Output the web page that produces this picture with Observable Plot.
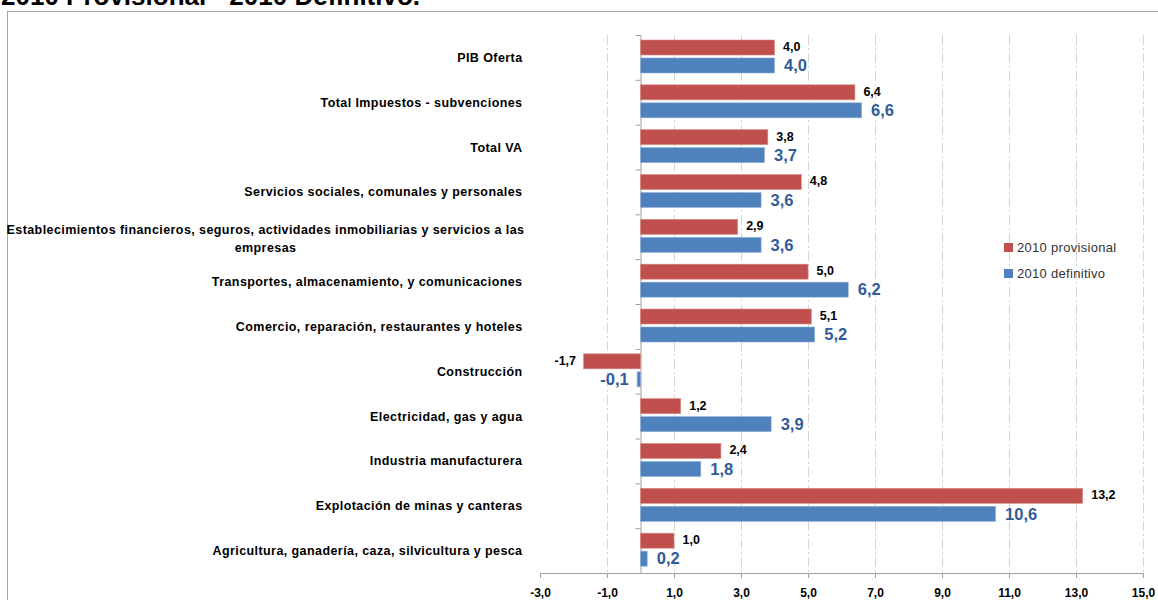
<!DOCTYPE html>
<html>
<head>
<meta charset="utf-8">
<script src="https://cdn.jsdelivr.net/npm/d3@7"></script>
<script src="https://cdn.jsdelivr.net/npm/@observablehq/plot@0.6"></script>
<style>
  html, body { margin: 0; padding: 0; background: #fff; overflow: hidden; }
  #wrap { position: relative; width: 1158px; height: 600px; overflow: hidden; }
  #title { position: absolute; left: 1px; top: -17px; font: bold 26px/26px "Liberation Sans", Arial, sans-serif; color: #000; white-space: nowrap; }
  #frame { position: absolute; left: 7px; top: 11px; width: 1200px; height: 700px; border: 1px solid #a6a6a6; box-sizing: border-box; }
  #chart { position: absolute; left: 0; top: 0; line-height: 0; }
  #chart svg { display: block; }
  #legend { position: absolute; left: 1004px; top: 234px; font: 13px "Liberation Sans", Arial, sans-serif; letter-spacing: 0.3px; color: #333; }
  #legend div { display: flex; align-items: center; height: 26px; }
  #legend span.sw { display: inline-block; width: 9px; height: 9px; margin-right: 4px; }
</style>
</head>
<body>
<div id="wrap">
  <div id="title">2010 Provisional - 2010 Definitivo.</div>
  <div id="frame"></div>
  <div id="chart"></div>
  <div id="legend"></div>
</div>
<script>
const categories = [
  "PIB Oferta",
  "Total Impuestos - subvenciones",
  "Total VA",
  "Servicios sociales, comunales y personales",
  "Establecimientos financieros, seguros, actividades inmobiliarias y servicios a las\nempresas",
  "Transportes, almacenamiento, y comunicaciones",
  "Comercio, reparación, restaurantes y hoteles",
  "Construcción",
  "Electricidad, gas y agua",
  "Industria manufacturera",
  "Explotación de minas y canteras",
  "Agricultura, ganadería, caza, silvicultura y pesca"
];
const provisional = [4.0, 6.4, 3.8, 4.8, 2.9, 5.0, 5.1, -1.7, 1.2, 2.4, 13.2, 1.0];
const definitivo  = [4.0, 6.6, 3.7, 3.6, 3.6, 6.2, 5.2, -0.1, 3.9, 1.8, 10.6, 0.2];
const seriesNames = ["2010 provisional", "2010 definitivo"];
const xTicks = [-3, -1, 1, 3, 5, 7, 9, 11, 13, 15];

const RED = "#C0504D", BLUE = "#4F81BD", BLUE_TXT = "#2F5C99";
const data = categories.map((c, i) => ({category: c, provisional: provisional[i], definitivo: definitivo[i]}));
const fmt = d => d.toFixed(1).replace(".", ",");
const FONT = "'Liberation Sans', Arial, sans-serif";

const H = 600, MT = 35, MB = 27;
const band = (H - MT - MB) / categories.length;
const last = categories[categories.length - 1];
const isLong = c => c.includes("\n");

const chart = Plot.plot({
  width: 1158, height: H,
  marginTop: MT, marginBottom: MB, marginLeft: 540, marginRight: 15,
  x: {domain: [-3, 15], axis: null},
  y: {domain: categories, axis: null, padding: 0, round: false},
  style: {background: "transparent", fontFamily: FONT},
  marks: [
    Plot.ruleX(xTicks.filter(t => t !== -3), {stroke: "#d4d4d4", strokeDasharray: "10,3,2,3"}),
    Plot.ruleX([0], {stroke: "#a0a0a0"}),
    Plot.ruleY(categories, {y: d => d, x1: 0, x2: 0, insetLeft: -5, dy: -band / 2, stroke: "#a0a0a0"}),
    Plot.ruleY([last], {y: d => d, dy: band / 2, stroke: "#a0a0a0"}),
    Plot.barX(data, {y: "category", x1: 0, x2: "provisional", fill: RED, stroke: "#d88a88", strokeWidth: 0.6, insetTop: 5, insetBottom: band - 20}),
    Plot.barX(data, {y: "category", x1: 0, x2: "definitivo", fill: BLUE, stroke: "#8fb0d8", strokeWidth: 0.6, insetTop: 23, insetBottom: band - 38}),
    Plot.text(data.filter(d => d.provisional >= 0), {y: "category", x: "provisional", text: d => fmt(d.provisional), textAnchor: "start", dx: 8, dy: -11, fontWeight: "bold", fontSize: 12.5, fill: "#000"}),
    Plot.text(data.filter(d => d.provisional < 0), {y: "category", x: "provisional", text: d => fmt(d.provisional), textAnchor: "end", dx: -8, dy: -11, fontWeight: "bold", fontSize: 12.5, fill: "#000"}),
    Plot.text(data.filter(d => d.definitivo >= 0), {y: "category", x: "definitivo", text: d => fmt(d.definitivo), textAnchor: "start", dx: 9, dy: 8, fontWeight: "bold", fontSize: 16.5, fill: BLUE_TXT}),
    Plot.text(data.filter(d => d.definitivo < 0), {y: "category", x: "definitivo", text: d => fmt(d.definitivo), textAnchor: "end", dx: -9, dy: 8, fontWeight: "bold", fontSize: 16.5, fill: BLUE_TXT}),
    Plot.text(categories.filter(c => !isLong(c)), {y: d => d, text: d => d, frameAnchor: "left", textAnchor: "end", dx: -18, fontWeight: "bold", fontSize: 12.5, fill: "#000"}),
    Plot.text(categories.filter(isLong), {y: d => d, text: d => d, frameAnchor: "left", textAnchor: "middle", dx: -275, fontWeight: "bold", fontSize: 12.5, fill: "#000", lineHeight: 1.4}),
    Plot.axisX(xTicks, {anchor: "bottom", tickSize: 5, tickPadding: 10, tickFormat: fmt, fontWeight: "bold", fontSize: 12, stroke: "#a0a0a0", color: "#000"})
  ]
});
const catText = new Set(categories.map(c => c.replace("\n", "")));
d3.select(chart).selectAll("text")
  .filter(function() { return catText.has(this.textContent); })
  .attr("letter-spacing", "0.42px");
document.getElementById("chart").appendChild(chart);

const legend = document.getElementById("legend");
[[seriesNames[0], RED], [seriesNames[1], BLUE]].forEach(([name, col]) => {
  const row = document.createElement("div");
  row.innerHTML = `<span class="sw" style="background:${col}"></span>${name}`;
  legend.appendChild(row);
});
</script>
</body>
</html>
